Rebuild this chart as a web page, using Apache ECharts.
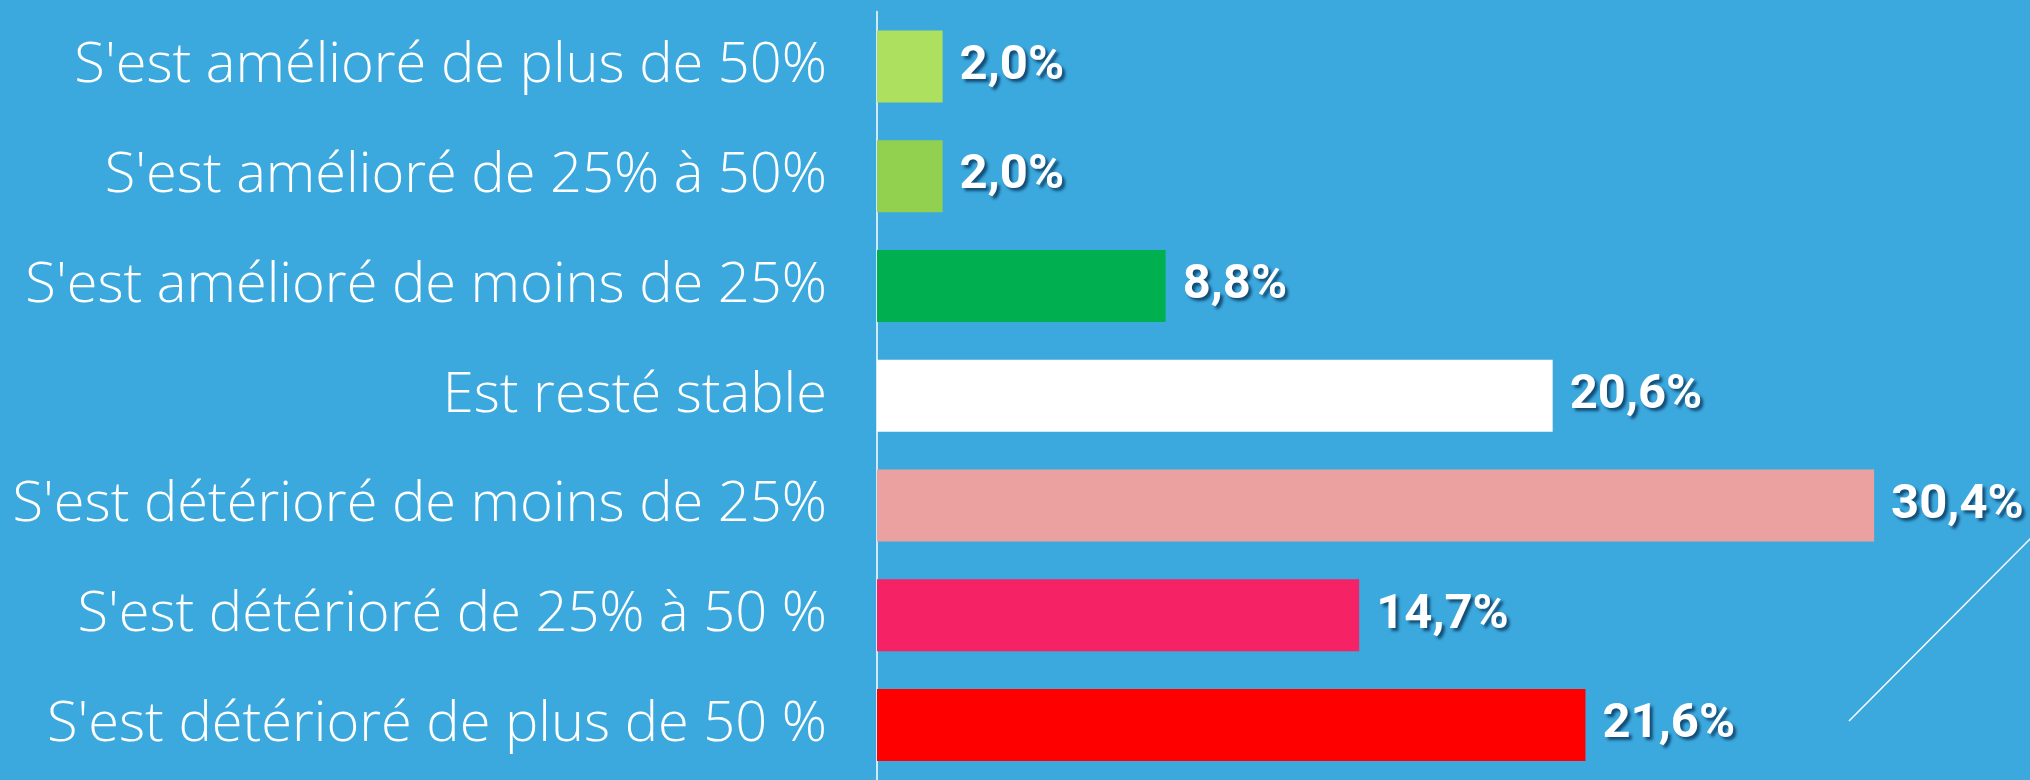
<!DOCTYPE html>
<html>
<head>
<meta charset="utf-8">
<script src="https://cdn.jsdelivr.net/npm/echarts@6/dist/echarts.min.js"></script>
<style>
  html, body { margin: 0; padding: 0; background: #3CA9DE; }
  #main { width: 2030px; height: 780px; }
</style>
</head>
<body>
<div id="main"></div>
<script>
// catégories, de haut en bas
var categories = [
    "S'est amélioré de plus de 50%",
    "S'est amélioré de 25% à 50%",
    "S'est amélioré de moins de 25%",
    "Est resté stable",
    "S'est détérioré de moins de 25%",
    "S'est détérioré de 25% à 50 %",
    "S'est détérioré de plus de 50 %"
];
var values = [2.0, 2.0, 8.8, 20.6, 30.4, 14.7, 21.6];
var barColors = ['#ADE05F', '#92D050', '#00B050', '#FFFFFF', '#ECA1A1', '#F52266', '#FF0000'];

var myChart = echarts.init(document.getElementById('main'));

var option = {
    backgroundColor: '#3CA9DE',
    grid: {
        left: 877,
        right: 5,
        top: 11.5,
        bottom: -7
    },
    xAxis: {
        type: 'value',
        min: 0,
        max: 35,
        show: false
    },
    yAxis: {
        type: 'category',
        data: categories,
        inverse: true,
        axisLine: { show: true, lineStyle: { color: '#FFFFFF', width: 1.5 } },
        axisTick: { show: false },
        axisLabel: {
            margin: 50,
            color: '#FFFFFF',
            fontFamily: 'Open Sans',
            fontWeight: 300,
            fontSize: 56
        }
    },
    series: [
        {
            type: 'bar',
            barWidth: 72,
            data: values.map(function (v, i) {
                return { value: v, itemStyle: { color: barColors[i] } };
            }),
            label: {
                show: true,
                position: 'right',
                distance: 17,
                color: '#FFFFFF',
                fontFamily: 'Roboto',
                fontWeight: 'bold',
                fontSize: 49,
                textShadowColor: 'rgba(10,60,100,0.85)',
                textShadowBlur: 3,
                textShadowOffsetX: 3,
                textShadowOffsetY: 3,
                formatter: function (p) {
                    return p.value.toFixed(1).replace('.', ',') + '%';
                }
            }
        }
    ],
    // trait décoratif en bas à droite
    graphic: [
        {
            type: 'line',
            shape: { x1: 1849, y1: 721, x2: 2034, y2: 535 },
            style: { stroke: '#FFFFFF', lineWidth: 1.5 }
        }
    ]
};

myChart.setOption(option);
</script>
</body>
</html>
